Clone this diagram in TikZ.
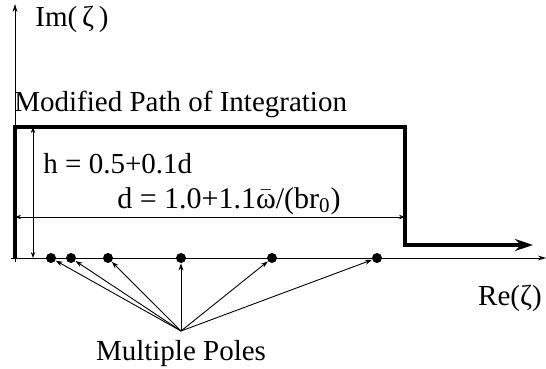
\documentclass[tikz,border=0pt]{standalone}
\usepackage{fontspec}
\setmainfont{Liberation Serif}
\usetikzlibrary{arrows.meta}

\def\yAxis{258}
\def\xLeft{15}
\def\xRight{405}
\def\yTop{127}

\begin{document}
\begin{tikzpicture}[x=.5pt, y=-.5pt, font=\fontsize{14.5}{17}\selectfont,
    thinline/.style={line width=.45pt},
    dim/.style={thinline, {Stealth[length=3pt, width=2.2pt]}-{Stealth[length=3pt, width=2.2pt]}},
    pole/.style={circle, fill, inner sep=0pt, minimum size=5pt}]
  \useasboundingbox (0,0) rectangle (546,369);

  % -- axes
  \coordinate (O) at (\xLeft, \yAxis);
  \coordinate (imtop) at (\xLeft, 4);
  \coordinate (reend) at (546, \yAxis);
  \draw[thinline, -{Stealth[length=4pt, width=2.4pt]}] (\xLeft, 262) -- (imtop);
  \draw[thinline, -{Stealth[length=4pt, width=2.4pt]}] (11, \yAxis) -- (reend);
  \node (im) at (72, 19) {Im(\,ζ\,)};
  \node (re) at (510, 298) {Re(ζ)};

  % -- modified path
  \draw[line width=2.2pt, line join=miter, -{Stealth[length=9pt, width=6pt]}]
    (O) -- (\xLeft, \yTop) -- (\xRight, \yTop) -- (\xRight, 245) -- (533, 245);
  \node[anchor=west, inner sep=0pt] (title) at (14, 104) {Modified Path of Integration};

  % -- dimensions
  \draw[dim] (33, \yTop) -- (33, \yAxis);
  \draw[dim] (\xLeft, 217) -- (\xRight, 217);
  \node[anchor=west, inner sep=0pt] (hlab) at (43, 164) {h = 0.5+0.1d};
  \node[font=\fontsize{15}{17}\selectfont] (dlab) at (229, 201) {d = 1.0+1.1$\bar{\mbox{ω}}$/(br\textsubscript{0})};

  % -- poles
  \coordinate (src) at (181, 331);
  \foreach\k/\x in {1/51, 2/71, 3/108, 4/181, 5/272, 6/377} {
    \node[pole] (p\k) at (\x, \yAxis) {};
    \draw[thinline, -{Stealth[length=3.5pt, width=2.4pt]}] (src) -- (p\k);
  }
  \node (mp) at (181, 354) {Multiple Poles};

\end{tikzpicture}
\end{document}
